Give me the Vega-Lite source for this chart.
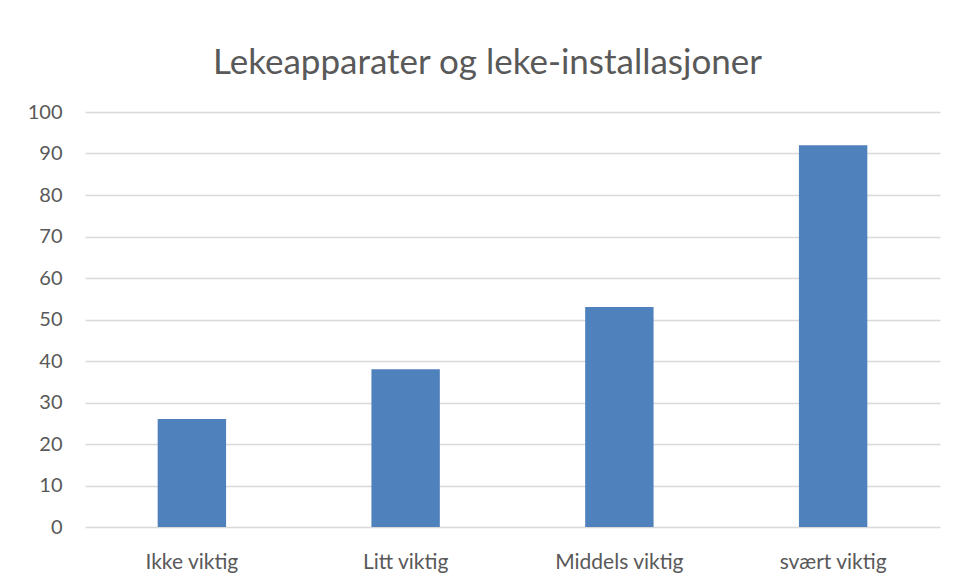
{
  "$schema": "https://vega.github.io/schema/vega-lite/v6.json",
  "autosize": {"type": "none"},
  "width": 855,
  "height": 415,
  "padding": {"left": 85, "top": 112, "right": 19, "bottom": 52},
  "background": "white",
  "title": {
    "text": "Lekeapparater og leke-installasjoner",
    "font": "Lato",
    "fontSize": 35,
    "fontWeight": "normal",
    "color": "#595959",
    "anchor": "middle",
    "dx": -25,
    "offset": 21
  },
  "data": {
    "values": [
      {"kategori": "Ikke viktig", "verdi": 26},
      {"kategori": "Litt viktig", "verdi": 38},
      {"kategori": "Middels viktig", "verdi": 53},
      {"kategori": "svært viktig", "verdi": 92}
    ]
  },
  "mark": {"type": "bar", "color": "#4f81bd"},
  "encoding": {
    "x": {
      "field": "kategori",
      "type": "nominal",
      "sort": null,
      "scale": {"paddingInner": 0.68, "paddingOuter": 0.34},
      "axis": {
        "title": null,
        "labelAngle": 0,
        "labelFont": "Lato",
        "labelFontSize": 21,
        "labelColor": "#595959",
        "labelPadding": 24,
        "ticks": false,
        "domain": false
      }
    },
    "y": {
      "field": "verdi",
      "type": "quantitative",
      "scale": {"domain": [0, 100]},
      "axis": {
        "title": null,
        "values": [0, 10, 20, 30, 40, 50, 60, 70, 80, 90, 100],
        "labelFont": "Lato",
        "labelFontSize": 20,
        "labelColor": "#595959",
        "labelPadding": 23,
        "ticks": false,
        "domain": false,
        "gridColor": "#d9d9d9",
        "gridWidth": 1.5
      }
    }
  },
  "config": {"view": {"stroke": null}}
}
